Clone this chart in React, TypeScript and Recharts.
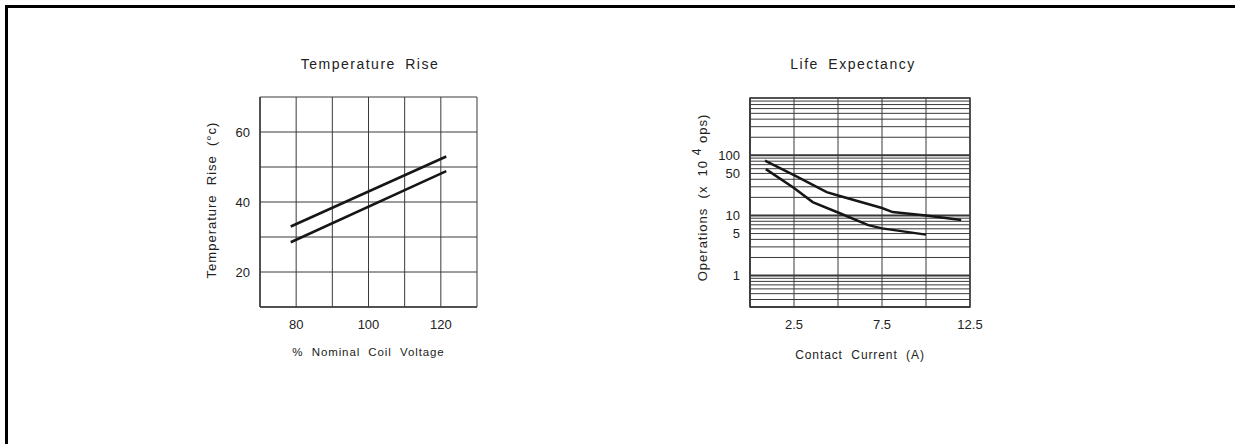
import React from 'react';
import { LineChart, Line, XAxis, YAxis, CartesianGrid, ReferenceLine, ReferenceArea, Label } from 'recharts';

// Temperature Rise chart data
const tempVoltage = [78.5, 121.5];
const tempUpper = [33, 53];
const tempLower = [28.5, 48.8];
const tempXTicks = [70, 80, 90, 100, 110, 120, 130];
const tempXLabels = [80, 100, 120];
const tempYTicks = [10, 20, 30, 40, 50, 60, 70];
const tempYLabels = [20, 40, 60];

// Life Expectancy chart data
const lifeUpperX = [0.85, 2.5, 4.36, 5, 7.5, 8.1, 10, 12];
const lifeUpperY = [82, 47, 24.5, 21.5, 13.3, 11.4, 10, 8.4];
const lifeLowerX = [0.9, 2.5, 3.56, 5, 6.72, 7.5, 10];
const lifeLowerY = [59, 28.6, 16.7, 11.2, 6.9, 6.1, 4.8];
const lifeXTicks = [0, 2.5, 5, 7.5, 10, 12.5];
const lifeXLabels = [2.5, 7.5, 12.5];
const lifeYTicks = [
  0.3, 0.4, 0.5, 0.6, 0.7, 0.8, 0.9,
  1, 2, 3, 4, 5, 6, 7, 8, 9,
  10, 20, 30, 40, 50, 60, 70, 80, 90,
  100, 200, 300, 400, 500, 600, 700, 800, 900,
];
const lifeYLabels = [1, 5, 10, 50, 100];
const lifeDecades = [1, 10, 100];

const tempData = tempVoltage.map((v, i) => ({ x: v, upper: tempUpper[i], lower: tempLower[i] }));
const lifeUpper = lifeUpperX.map((x, i) => ({ x, y: lifeUpperY[i] }));
const lifeLower = lifeLowerX.map((x, i) => ({ x, y: lifeLowerY[i] }));

const FONT = '"Liberation Sans", Arial, sans-serif';
const TXT = '#222';
const GRID = '#3a3a3a';
const CURVE = '#161616';

const tickStyle = { fontSize: 13, fill: TXT, fontFamily: FONT };

const titleStyle: React.CSSProperties = {
  position: 'absolute',
  top: 64,
  transform: 'translate(-50%, -50%)',
  fontFamily: FONT,
  fontSize: 14,
  letterSpacing: 1.5,
  wordSpacing: 4,
  color: TXT,
  whiteSpace: 'nowrap',
};

function XLabel(text: string, dy: number, spacing: number, size: number) {
  return (props: any) => {
    const vb = props.viewBox || {};
    return (
      <text
        x={vb.x + vb.width / 2}
        y={vb.y + dy}
        textAnchor="middle"
        dominantBaseline="central"
        fontFamily={FONT}
        fontSize={size}
        fill={TXT}
        letterSpacing={spacing}
        style={{ whiteSpace: 'pre' }}
      >
        {text}
      </text>
    );
  };
}

function TempYLabel(props: any) {
  const vb = props.viewBox || {};
  const cx = vb.x + 31;
  const cy = vb.y + vb.height / 2 - 2;
  return (
    <text
      x={cx}
      y={cy}
      transform={`rotate(-90 ${cx} ${cy})`}
      textAnchor="middle"
      dominantBaseline="central"
      fontFamily={FONT}
      fontSize={13}
      fill={TXT}
      letterSpacing={1}
      style={{ whiteSpace: 'pre' }}
    >
      {'Temperature  Rise  (°c)'}
    </text>
  );
}

function LifeYLabel(props: any) {
  const vb = props.viewBox || {};
  const cx = vb.x + 31.5;
  const cy = vb.y + vb.height / 2 - 5;
  return (
    <text
      x={cx}
      y={cy}
      transform={`rotate(-90 ${cx} ${cy})`}
      textAnchor="middle"
      dominantBaseline="central"
      fontFamily={FONT}
      fontSize={13}
      fill={TXT}
      letterSpacing={1}
      style={{ whiteSpace: 'pre' }}
    >
      <tspan>{'Operations  (x  10 '}</tspan>
      <tspan dy={-5} fontSize={12}>4</tspan>
      <tspan dy={5}>{' ops)'}</tspan>
    </text>
  );
}

export default function App() {
  return (
    <div style={{ position: 'fixed', left: 0, top: 0, width: 1235, height: 444, background: '#fff', overflow: 'hidden' }}>
      <div style={{ position: 'absolute', left: 5, top: 5, width: 1235, height: 3, background: '#000' }} />
      <div style={{ position: 'absolute', left: 5, top: 5, width: 3, height: 444, background: '#000' }} />
      <div style={{ ...titleStyle, left: 370 }}>Temperature Rise</div>
      <div style={{ ...titleStyle, left: 853 }}>Life Expectancy</div>

      <div style={{ position: 'absolute', left: 180, top: 40 }}>
        <LineChart width={320} height={340} data={tempData} margin={{ top: 57, right: 23, bottom: 0, left: 0 }}>
          <CartesianGrid stroke={GRID} strokeWidth={1} />
          <XAxis
            type="number"
            dataKey="x"
            domain={[70, 130]}
            ticks={tempXTicks}
            interval={0}
            tickFormatter={(v: number) => (tempXLabels.includes(v) ? String(v) : '')}
            tick={tickStyle}
            tickLine={false}
            tickSize={6}
            tickMargin={7}
            axisLine={{ stroke: GRID, strokeWidth: 1.5 }}
            height={73}
          >
            <Label content={XLabel('%  Nominal  Coil  Voltage', 45, 0.9, 11.5)} />
          </XAxis>
          <YAxis
            type="number"
            domain={[10, 70]}
            ticks={tempYTicks}
            interval={0}
            tickFormatter={(v: number) => (tempYLabels.includes(v) ? String(v) : '')}
            tick={tickStyle}
            tickLine={false}
            tickSize={6}
            tickMargin={4}
            axisLine={{ stroke: GRID, strokeWidth: 1.5 }}
            width={80}
          >
            <Label content={TempYLabel} />
          </YAxis>
          <Line dataKey="upper" stroke={CURVE} strokeWidth={2.5} dot={false} isAnimationActive={false} />
          <Line dataKey="lower" stroke={CURVE} strokeWidth={2.5} dot={false} isAnimationActive={false} />
        </LineChart>
      </div>

      <div style={{ position: 'absolute', left: 670, top: 40 }}>
        <LineChart width={340} height={340} margin={{ top: 58, right: 40, bottom: 0, left: 0 }}>
          <CartesianGrid stroke={GRID} strokeWidth={1} />
          <XAxis
            type="number"
            dataKey="x"
            domain={[0, 12.5]}
            ticks={lifeXTicks}
            interval={0}
            tickFormatter={(v: number) => (lifeXLabels.includes(v) ? String(v) : '')}
            tick={tickStyle}
            tickLine={false}
            tickSize={6}
            tickMargin={7}
            axisLine={{ stroke: GRID, strokeWidth: 1.5 }}
            height={73}
            allowDataOverflow
          >
            <Label content={XLabel('Contact  Current  (A)', 48, 0.9, 12)} />
          </XAxis>
          <YAxis
            type="number"
            dataKey="y"
            scale="log"
            domain={[0.3, 900]}
            ticks={lifeYTicks}
            interval={0}
            tickFormatter={(v: number) => (lifeYLabels.includes(v) ? String(v) : '')}
            tick={tickStyle}
            tickLine={false}
            tickSize={6}
            tickMargin={4}
            axisLine={{ stroke: GRID, strokeWidth: 1.5 }}
            width={80}
            allowDataOverflow
          >
            <Label content={LifeYLabel} />
          </YAxis>
          <ReferenceArea x1={0} x2={12.5} y1={0.3} y2={900} fill="none" stroke={GRID} strokeWidth={1.5} ifOverflow="visible" />
          {lifeDecades.map((d) => (
            <ReferenceLine key={d} y={d} stroke={GRID} strokeWidth={2} />
          ))}
          <Line data={lifeUpper} dataKey="y" stroke={CURVE} strokeWidth={2.5} dot={false} isAnimationActive={false} />
          <Line data={lifeLower} dataKey="y" stroke={CURVE} strokeWidth={2.5} dot={false} isAnimationActive={false} />
        </LineChart>
      </div>
    </div>
  );
}
